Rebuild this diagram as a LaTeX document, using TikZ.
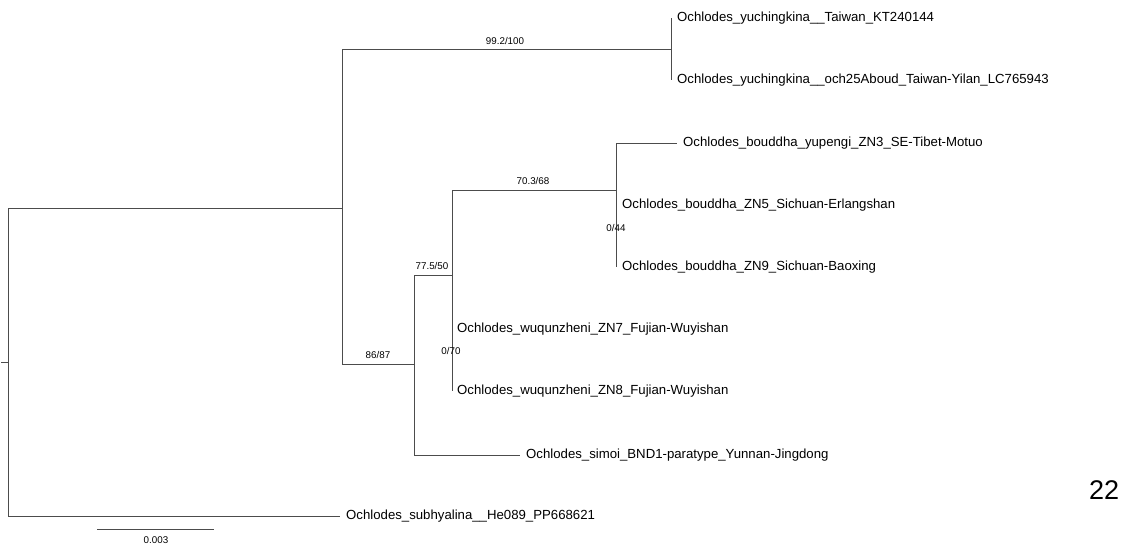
\documentclass[tikz,border=0pt]{standalone}
\usepackage{fontspec}
\setmainfont{Liberation Sans}
\usetikzlibrary{positioning}

\tikzset{
  branch/.style={draw=black!70, line width=1pt},
  leaf/.style={anchor=west, inner xsep=6pt, inner ysep=0pt, text height=1.6ex, text depth=0.4ex,
    font=\fontsize{13.2}{15}\selectfont},
  support/.style={inner sep=0pt, font=\fontsize{9.8}{11}\selectfont},
}

\begin{document}
\begin{tikzpicture}[x=1pt, y=-1pt]
  \useasboundingbox (0,0) rectangle (1126,550);
  % internal nodes
  \coordinate (r0) at (1,362);
  \coordinate (root) at (8,362);
  \coordinate (n1) at (342,208);
  \coordinate (n2) at (671,49);
  \coordinate (n3) at (414,364);
  \coordinate (n4) at (452,275);
  \coordinate (n5) at (616,190);
  \coordinate (n6) at (616,236);
  \coordinate (n7) at (452,360);
  % leaves
  \node[leaf] (yu1) at (671,18) {Ochlodes\_yuchingkina\_\_Taiwan\_KT240144};
  \node[leaf] (yu2) at (671,80) {Ochlodes\_yuchingkina\_\_och25Aboud\_Taiwan-Yilan\_LC765943};
  \node[leaf] (zn3) at (677,143) {Ochlodes\_bouddha\_yupengi\_ZN3\_SE-Tibet-Motuo};
  \node[leaf] (zn5) at (616,205) {Ochlodes\_bouddha\_ZN5\_Sichuan-Erlangshan};
  \node[leaf] (zn9) at (616,267) {Ochlodes\_bouddha\_ZN9\_Sichuan-Baoxing};
  \node[leaf, inner xsep=5pt] (zn7) at (452,329) {Ochlodes\_wuqunzheni\_ZN7\_Fujian-Wuyishan};
  \node[leaf, inner xsep=5pt] (zn8) at (452,391) {Ochlodes\_wuqunzheni\_ZN8\_Fujian-Wuyishan};
  \node[leaf] (simoi) at (520,455) {Ochlodes\_simoi\_BND1-paratype\_Yunnan-Jingdong};
  \node[leaf] (subh) at (340,516) {Ochlodes\_subhyalina\_\_He089\_PP668621};
  % branches
  \draw[branch] (r0) -- (root);
  \draw[branch] (root) |- (n1);
  \draw[branch] (root) |- (subh.west);
  \draw[branch] (n1) |- (n2);
  \draw[branch] (n1) |- (n3);
  \draw[branch] (n2) |- (yu1.west);
  \draw[branch] (n2) |- (yu2.west);
  \draw[branch] (n3) |- (n4);
  \draw[branch] (n3) |- (simoi.west);
  \draw[branch] (n4) |- (n5);
  \draw[branch] (n4) -- (n7);
  \draw[branch] (n5) |- (zn3.west);
  \draw[branch] (n5) -- (n6);
  \draw[branch] (n6) |- (zn5.west);
  \draw[branch] (n6) |- (zn9.west);
  \draw[branch] (n7) |- (zn7.west);
  \draw[branch] (n7) |- (zn8.west);
  % support values
  \node[support] (s2) at (505,41) {99.2/100};
  \node[support] (s3) at (378,355) {86/87};
  \node[support] (s4) at (432,266) {77.5/50};
  \node[support] (s5) at (533,181) {70.3/68};
  \node[support] (s6) at (616,228) {0/44};
  \node[support] (s7) at (451,351) {0/70};
  % scale bar
  \coordinate (sb1) at (97,529);
  \coordinate (sb2) at (214,529);
  \draw[branch] (sb1) -- (sb2);
  \node[support] (sbl) at (156,540) {0.003};
  \node[font=\fontsize{27}{30}\selectfont, inner sep=0pt] (num) at (1104,490) {22};
\end{tikzpicture}
\end{document}
